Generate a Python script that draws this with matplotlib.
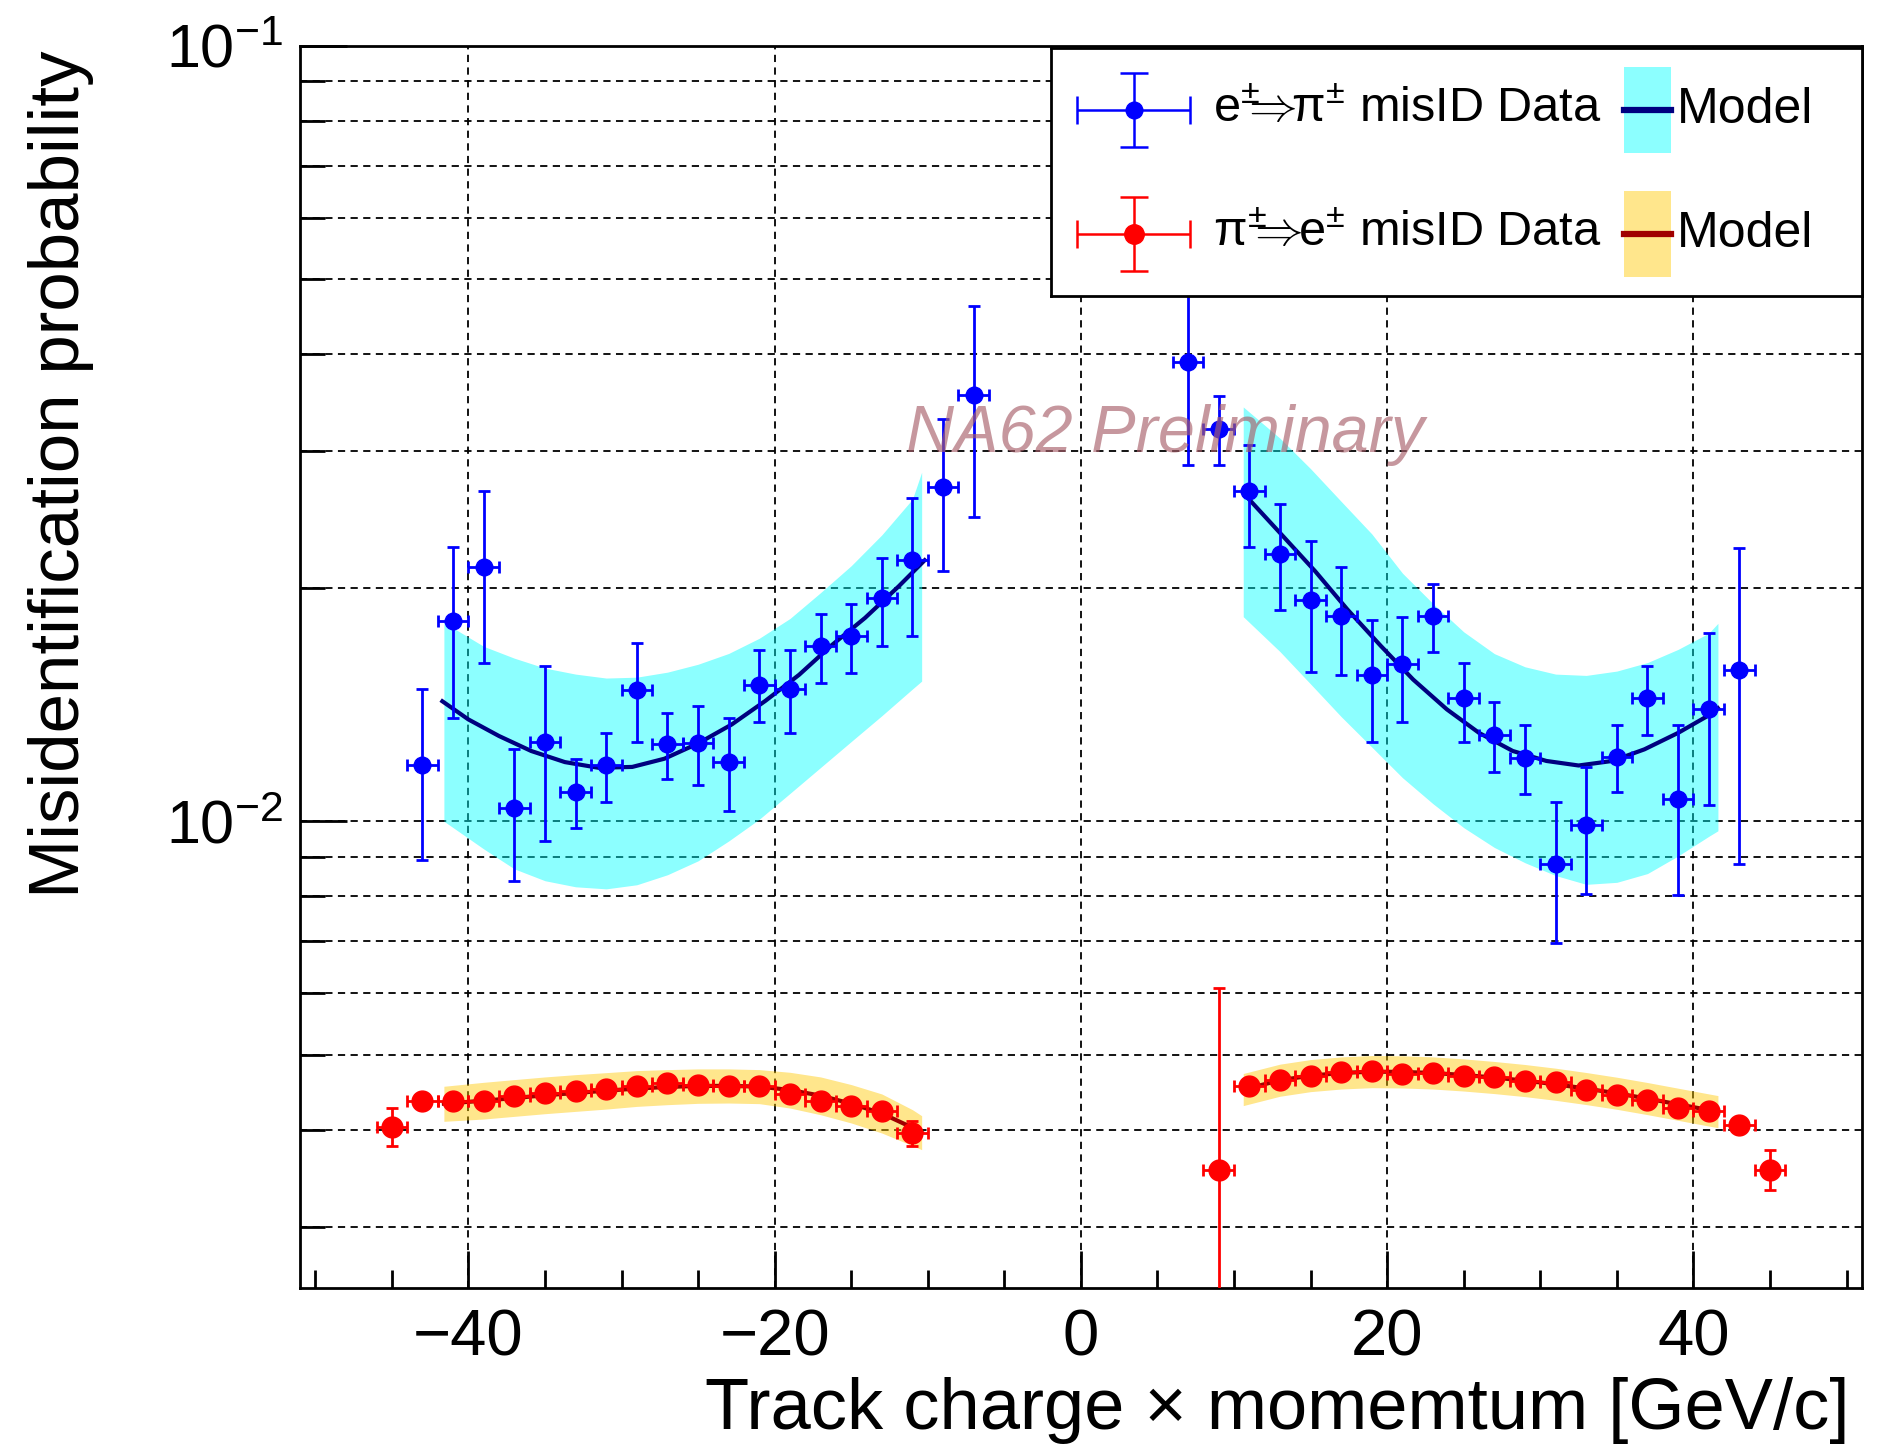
import matplotlib
matplotlib.use("Agg")
import matplotlib.pyplot as plt
import numpy as np
from matplotlib.patches import Rectangle
from matplotlib.ticker import LogLocator, MultipleLocator, NullFormatter

plt.rcParams["font.family"] = ["Liberation Sans", "DejaVu Sans"]
plt.rcParams["mathtext.fontset"] = "custom"
plt.rcParams["mathtext.rm"] = "Liberation Sans"
plt.rcParams["mathtext.it"] = "Liberation Sans:italic"
plt.rcParams["mathtext.bf"] = "Liberation Sans:bold"

# e -> pi misID data, negative tracks
blue_x_neg = [-43, -41, -39, -37, -35, -33, -31, -29, -27, -25, -23, -21, -19, -17, -15, -13, -11, -9, -7]
blue_y_neg = [0.01183, 0.01814, 0.02130, 0.01039, 0.01267, 0.01091, 0.01183, 0.01477, 0.01259, 0.01263,
              0.01194, 0.01500, 0.01482, 0.01685, 0.01732, 0.01942, 0.02173, 0.02697, 0.03548]
blue_hi_neg = [0.01481, 0.02259, 0.02666, 0.01240, 0.01585, 0.01204, 0.01301, 0.01697, 0.01381, 0.01409,
               0.01357, 0.01661, 0.01661, 0.01852, 0.01908, 0.02188, 0.02610, 0.03305, 0.04617]
blue_lo_neg = [0.00891, 0.01357, 0.01600, 0.00838, 0.00943, 0.00979, 0.01058, 0.01267, 0.01134, 0.01112,
               0.01030, 0.01341, 0.01301, 0.01509, 0.01554, 0.01681, 0.01732, 0.02104, 0.02469]

# e -> pi misID data, positive tracks
blue_x_pos = [7, 9, 11, 13, 15, 17, 19, 21, 23, 25, 27, 29, 31, 33, 35, 37, 39, 41, 43]
blue_y_pos = [0.03911, 0.03208, 0.02664, 0.02214, 0.01928, 0.01840, 0.01542, 0.01596, 0.01840, 0.01440,
              0.01291, 0.01206, 0.00881, 0.00990, 0.01211, 0.01440, 0.01067, 0.01394, 0.01568]
blue_hi_pos = [0.05200, 0.03539, 0.03059, 0.02562, 0.02301, 0.02130, 0.01817, 0.01836, 0.02022, 0.01602,
               0.01427, 0.01329, 0.01060, 0.01175, 0.01329, 0.01586, 0.01329, 0.01748, 0.02251]
blue_lo_pos = [0.02878, 0.02878, 0.02257, 0.01871, 0.01556, 0.01542, 0.01265, 0.01343, 0.01651, 0.01265,
               0.01157, 0.01083, 0.00697, 0.00805, 0.01092, 0.01291, 0.00803, 0.01050, 0.00881]

# pi -> e misID data
red_x_neg = [-45, -43, -41, -39, -37, -35, -33, -31, -29, -27, -25, -23, -21, -19, -17, -15, -13, -11]
red_y_neg = [0.004032, 0.004351, 0.004351, 0.004351, 0.004425, 0.004460, 0.004482, 0.004513, 0.004558,
             0.004594, 0.004572, 0.004558, 0.004549, 0.004451, 0.004351, 0.004296, 0.004224, 0.003961]
red_hi_neg = [0.004266, 0.004400, 0.004400, 0.004400, 0.004475, 0.004510, 0.004532, 0.004563, 0.004608,
              0.004644, 0.004622, 0.004608, 0.004599, 0.004501, 0.004401, 0.004346, 0.004280, 0.004100]
red_lo_neg = [0.003806, 0.004302, 0.004302, 0.004302, 0.004376, 0.004410, 0.004432, 0.004463, 0.004508,
              0.004544, 0.004522, 0.004508, 0.004499, 0.004401, 0.004301, 0.004246, 0.004168, 0.003814]

red_x_pos = [9, 11, 13, 15, 17, 19, 21, 23, 25, 27, 29, 31, 33, 35, 37, 39, 41, 43, 45]
red_y_pos = [0.003551, 0.004551, 0.004633, 0.004688, 0.004749, 0.004758, 0.004725, 0.004734, 0.004688,
             0.004679, 0.004619, 0.004610, 0.004506, 0.004439, 0.004374, 0.004266, 0.004224, 0.004060, 0.003551]
red_hi_pos = [0.006100, 0.004620, 0.004683, 0.004738, 0.004799, 0.004808, 0.004775, 0.004784, 0.004738,
              0.004729, 0.004669, 0.004660, 0.004556, 0.004489, 0.004424, 0.004316, 0.004274, 0.004110, 0.003770]
red_lo_pos = [0.001000, 0.004480, 0.004583, 0.004638, 0.004699, 0.004708, 0.004675, 0.004684, 0.004638,
              0.004629, 0.004569, 0.004560, 0.004456, 0.004389, 0.004324, 0.004216, 0.004174, 0.004010, 0.003346]

# e -> pi model curves
blue_line_x_neg = [-41.7, -40, -38, -35.9, -33.7, -31.5, -29.3, -27.2, -25, -22.8, -20.6, -18.4,
                   -16.3, -14.1, -11.9, -10.2]
blue_line_neg = [0.01428, 0.01353, 0.01288, 0.01232, 0.01192, 0.01172, 0.01175, 0.01204, 0.01260,
                 0.01333, 0.01430, 0.01545, 0.01685, 0.01829, 0.02009, 0.02171]
blue_line_x_pos = [10.8, 13.1, 15.3, 17.4, 19.6, 21.7, 23.9, 26.0, 28.2, 30.4, 32.5, 34.7, 36.8,
                   39.0, 40.9, 41.6]
blue_line_pos = [0.02625, 0.02343, 0.02101, 0.01876, 0.01682, 0.01523, 0.01394, 0.01300, 0.01232,
                 0.01196, 0.01180, 0.01196, 0.01238, 0.01300, 0.01366, 0.01399]

# model uncertainty bands
band_x_neg = [-41.6, -39, -37, -35, -33, -31, -29, -27, -25, -23, -21, -19, -17, -15, -13, -11, -10.4]
band_x_pos = [10.6, 13, 15, 17, 19, 21, 23, 25, 27, 29, 31, 33, 35, 37, 39, 41, 41.6]

blue_band_hi_neg = [0.01805, 0.01681, 0.01623, 0.01576, 0.01548, 0.01530, 0.01534, 0.01557, 0.01594,
                    0.01646, 0.01722, 0.01826, 0.01972, 0.02136, 0.02341, 0.02603, 0.02820]
blue_band_lo_neg = [0.01000, 0.00921, 0.00868, 0.00838, 0.00823, 0.00818, 0.00828, 0.00853, 0.00889,
                    0.00943, 0.01006, 0.01086, 0.01173, 0.01267, 0.01368, 0.01481, 0.01516]
blue_band_hi_pos = [0.03423, 0.03119, 0.02849, 0.02585, 0.02347, 0.02089, 0.01908, 0.01755, 0.01645,
                    0.01582, 0.01548, 0.01542, 0.01562, 0.01602, 0.01666, 0.01748, 0.01800]
blue_band_lo_pos = [0.01836, 0.01655, 0.01503, 0.01364, 0.01246, 0.01138, 0.01053, 0.00981, 0.00925,
                    0.00884, 0.00851, 0.00829, 0.00834, 0.00856, 0.00902, 0.00956, 0.00972]

# pi -> e model curves and bands (same x grid as the bands)
red_line_neg = [0.004322, 0.004360, 0.004395, 0.004431, 0.004461, 0.004492, 0.004520, 0.004542, 0.004556,
                0.004556, 0.004547, 0.004501, 0.004426, 0.004322, 0.004199, 0.004024, 0.003965]
red_band_hi_neg = [0.004551, 0.004605, 0.004642, 0.004679, 0.004711, 0.004739, 0.004768, 0.004782, 0.004792,
                   0.004792, 0.004782, 0.004744, 0.004679, 0.004574, 0.004448, 0.004245, 0.004170]
red_band_lo_neg = [0.004101, 0.004129, 0.004162, 0.004195, 0.004224, 0.004253, 0.004287, 0.004309, 0.004326,
                   0.004330, 0.004322, 0.004266, 0.004182, 0.004081, 0.003961, 0.003815, 0.003770]
red_line_pos = [0.004506, 0.004633, 0.004697, 0.004734, 0.004753, 0.004749, 0.004734, 0.004706, 0.004670,
                0.004628, 0.004578, 0.004520, 0.004457, 0.004387, 0.004314, 0.004241, 0.004220]
red_band_hi_pos = [0.004727, 0.004860, 0.004927, 0.004966, 0.004986, 0.004982, 0.004966, 0.004937, 0.004899,
                   0.004855, 0.004802, 0.004741, 0.004675, 0.004602, 0.004525, 0.004449, 0.004427]
red_band_lo_pos = [0.004297, 0.004418, 0.004479, 0.004514, 0.004532, 0.004528, 0.004514, 0.004487, 0.004453,
                   0.004413, 0.004365, 0.004310, 0.004250, 0.004183, 0.004113, 0.004044, 0.004024]

CYAN = "#00ffff"
ORANGE = "#ffc800"
NAVY = "#000080"
DARKRED = "#a00000"

fig = plt.figure(figsize=(18.96, 14.55), dpi=100)
ax = fig.add_axes([0.1582, 0.1148, 0.8238, 0.8536])
ax.set_yscale("log")
ax.set_xlim(-51, 51)
ax.set_ylim(0.0025, 0.1)


def draw_band(xs, lo, hi, color):
    ax.fill_between(xs, lo, hi, color=color, alpha=0.45, lw=0, zorder=1)


def draw_points(xs, ys, lo, hi, color, ms):
    ys = np.asarray(ys)
    yerr = [ys - np.asarray(lo), np.asarray(hi) - ys]
    ax.errorbar(xs, ys, xerr=1.0, yerr=yerr, fmt="o", color=color, ms=ms,
                elinewidth=2, capsize=4.5, capthick=2, zorder=4)


draw_band(band_x_neg, blue_band_lo_neg, blue_band_hi_neg, CYAN)
draw_band(band_x_pos, blue_band_lo_pos, blue_band_hi_pos, CYAN)
draw_band(band_x_neg, red_band_lo_neg, red_band_hi_neg, ORANGE)
draw_band(band_x_pos, red_band_lo_pos, red_band_hi_pos, ORANGE)
ax.plot(blue_line_x_neg, blue_line_neg, color=NAVY, lw=3, zorder=2)
ax.plot(blue_line_x_pos, blue_line_pos, color=NAVY, lw=3, zorder=2)
ax.plot(band_x_neg, red_line_neg, color=DARKRED, lw=3, zorder=2)
ax.plot(band_x_pos, red_line_pos, color=DARKRED, lw=3, zorder=2)

draw_points(blue_x_neg, blue_y_neg, blue_lo_neg, blue_hi_neg, "blue", 12)
draw_points(blue_x_pos, blue_y_pos, blue_lo_pos, blue_hi_pos, "blue", 12)
draw_points(red_x_neg, red_y_neg, red_lo_neg, red_hi_neg, "red", 15)
draw_points(red_x_pos, red_y_pos, red_lo_pos, red_hi_pos, "red", 15)

ax.text(5.5, 0.0315, "NA62 Preliminary", fontsize=48, style="italic",
        color="#a8606a", alpha=0.65, ha="center", va="center", zorder=5)

# axes styling
ax.xaxis.set_major_locator(MultipleLocator(20))
ax.xaxis.set_minor_locator(MultipleLocator(5))
ax.yaxis.set_major_locator(LogLocator(base=10))
ax.yaxis.set_minor_locator(LogLocator(base=10, subs=np.arange(2, 10)))
ax.yaxis.set_minor_formatter(NullFormatter())
ax.set_axisbelow(True)
ax.grid(True, which="major", axis="x", color="black", ls=(0, (4, 3)), lw=1.3)
ax.grid(True, which="both", axis="y", color="black", ls=(0, (4, 3)), lw=1.3)
ax.tick_params(axis="both", which="both", direction="in", top=False, right=False, width=2)
ax.tick_params(axis="x", which="major", length=27, labelsize=47, pad=15)
ax.tick_params(axis="x", which="minor", length=13)
ax.tick_params(axis="y", which="major", length=34, labelsize=44, pad=12)
ax.tick_params(axis="y", which="minor", length=18)
for sp in ax.spines.values():
    sp.set_linewidth(2)

fig.text(0.9757, 0.0305, "Track charge \u00d7 momemtum [GeV/c]", fontsize=52,
         ha="right", va="center")
fig.text(0.032, 0.965, "Misidentification probability", fontsize=51,
         rotation=90, ha="center", va="top")

# legend box
lax = fig.add_axes([0.5543, 0.7966, 0.4277, 0.1704], zorder=10)
lax.set_xlim(0, 1)
lax.set_ylim(0, 1)
lax.set_xticks([])
lax.set_yticks([])
lax.set_facecolor("white")
for sp in lax.spines.values():
    sp.set_linewidth(2)

rows = [
    (0.75, "blue", r"$\mathrm{e^{\pm}\!\!\!\Rightarrow\!\!\pi^{\pm}}$ misID Data", CYAN, NAVY, 12),
    (0.25, "red", r"$\mathrm{\pi^{\pm}\!\!\!\Rightarrow\!\!e^{\pm}}$ misID Data", ORANGE, DARKRED, 14),
]
for yc, color, label, band_color, line_color, ms in rows:
    lax.errorbar([0.102], [yc], xerr=[0.07], yerr=[0.15], fmt="o", color=color, ms=ms,
                 elinewidth=1.8, capsize=10, capthick=1.8)
    lax.text(0.2, yc, label, fontsize=35, ha="left", va="center")
    lax.add_patch(Rectangle((0.7065, yc - 0.175), 0.058, 0.35, color=band_color, alpha=0.45, lw=0))
    lax.plot([0.7065, 0.7645], [yc, yc], color=line_color, lw=4.5)
    lax.text(0.772, yc, "Model", fontsize=36, ha="left", va="center")

fig.savefig("out.png", dpi=100)
plt.close(fig)
